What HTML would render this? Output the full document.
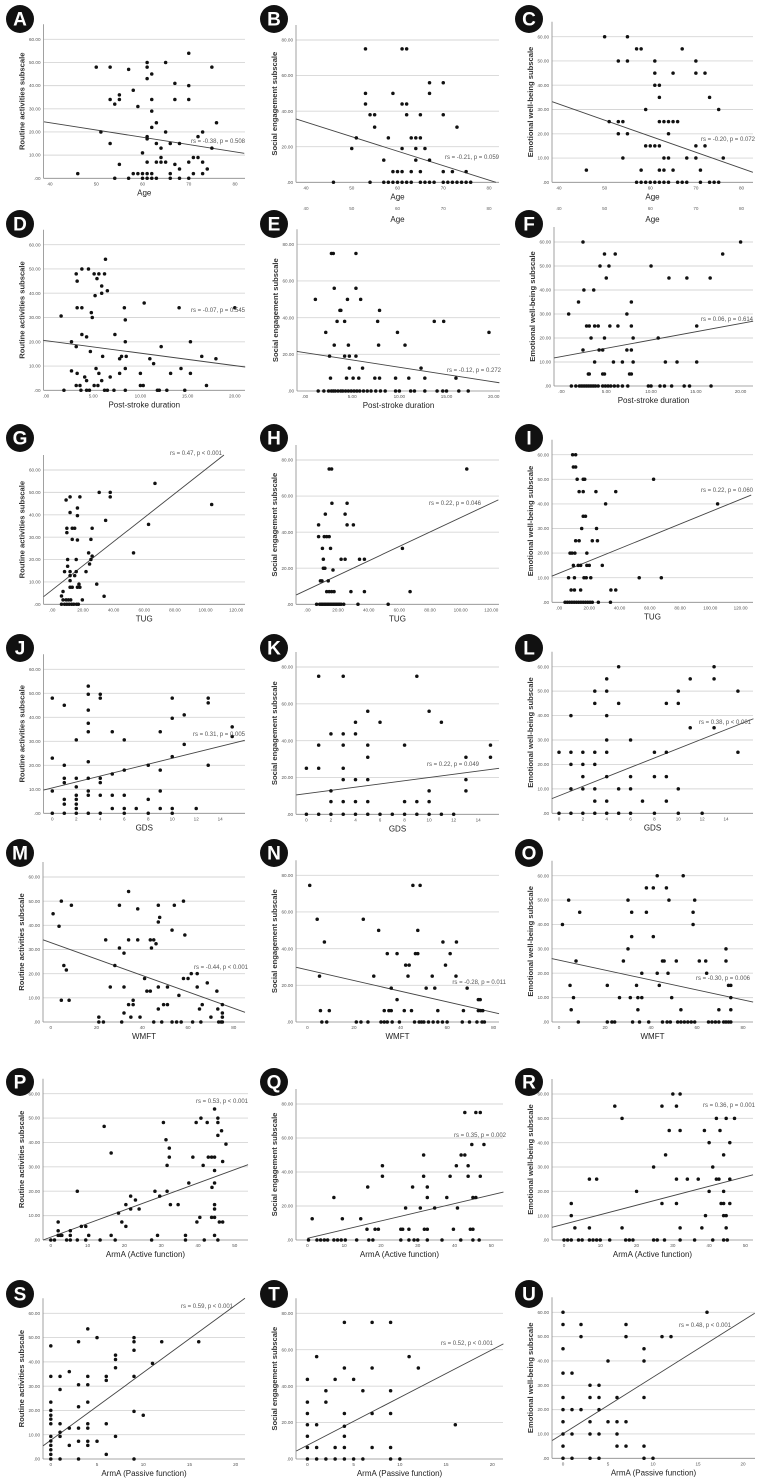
<!DOCTYPE html>
<html><head><meta charset="utf-8">
<style>
html,body{margin:0;padding:0;background:#fff;}
svg{display:block;font-family:"Liberation Sans",Arial,sans-serif;}
</style></head>
<body>
<svg id="fig" width="759" height="1482" viewBox="0 0 759 1482" xmlns="http://www.w3.org/2000/svg"></svg>
<script>
// ---------- tick values / labels ----------
const yTicksSixty = [0,10,20,30,40,50,60];
const yLabelsSixty = [".00","10.00","20.00","30.00","40.00","50.00","60.00"];
const yTicksEighty = [0,20,40,60,80];
const yLabelsEighty = [".00","20.00","40.00","60.00","80.00"];
const xTicksAge = [40,50,60,70,80];
const xLabelsAge = ["40","50","60","70","80"];
const xTicksDur = [0,5,10,15,20];
const xLabelsDur = [".00","5.00","10.00","15.00","20.00"];
const xTicksTug = [0,20,40,60,80,100,120];
const xLabelsTug = [".00","20.00","40.00","60.00","80.00","100.00","120.00"];
const xTicksGds = [0,2,4,6,8,10,12,14];
const xLabelsGds = ["0","2","4","6","8","10","12","14"];
const xTicksWmft = [0,20,40,60,80];
const xLabelsWmft = ["0","20","40","60","80"];
const xTicksActive = [0,10,20,30,40,50];
const xLabelsActive = ["0","10","20","30","40","50"];
const xTicksPassive = [0,5,10,15,20];
const xLabelsPassive = ["0","5","10","15","20"];

// ---------- series (x, y) ----------
const aPoints = [[46,2],[50,48],[53,48],[57,47],[53,34],[54,32],[55,36],[55,34],[58,38],[59,31],[51,20],[53,15],[55,6],[54,0],[57,0],[58,2],[59,2],[60,2],[60,0],[61,2],[61,0],[62,2],[62,0],[63,0],[60,11],[61,50],[61,48],[61,43],[62,45],[62,34],[62,29],[62,22],[63,24],[61,18],[61,17],[63,15],[61,7],[64,13],[64,9],[64,7],[63,7],[65,7],[66,15],[65,20],[65,50],[67,41],[67,34],[68,15],[67,6],[68,4],[66,2],[66,0],[68,0],[70,54],[70,40],[70,34],[70,7],[70,0],[71,9],[72,9],[71,2],[72,18],[73,20],[73,7],[73,2],[74,4],[75,48],[75,13],[76,24]];
const aLine = [38.7,24.4,82,10.8];
const bPoints = [[46,0],[50,19],[51,25],[53,75],[53,50],[53,44],[54,38],[55,38],[55,31],[54,0],[57,12.5],[58,25],[59,50],[57,0],[58,0],[59,0],[60,0],[61,0],[62,0],[63,0],[59,6],[60,6],[61,6],[61,75],[62,75],[61,44],[62,44],[62,38],[61,19],[63,25],[64,25],[65,25],[64,19],[64,12.5],[63,6],[65,6],[65,38],[66,19],[67,56],[67,50],[67,12.5],[65,0],[66,0],[67,0],[68,0],[70,56],[70,38],[70,6],[70,0],[71,0],[72,0],[73,0],[74,0],[75,0],[76,0],[72,6],[73,31],[75,6]];
const bLine = [37.8,35.6,81.5,0];
const cPoints = [[46,5],[50,60],[51,25],[53,50],[53,25],[54,25],[53,20],[54,10],[55,60],[55,50],[55,20],[57,55],[58,55],[58,5],[59,30],[59,15],[60,15],[61,15],[62,15],[57,0],[58,0],[59,0],[60,0],[61,0],[62,0],[63,0],[64,0],[66,0],[67,0],[68,0],[61,50],[61,45],[61,40],[62,40],[62,35],[62,25],[63,25],[64,25],[65,25],[66,25],[64,20],[63,10],[64,10],[62,5],[63,5],[65,5],[65,45],[67,55],[68,10],[70,50],[70,45],[72,45],[70,15],[72,15],[70,10],[71,5],[71,0],[73,35],[75,30],[76,10],[73,0],[74,0],[75,0]];
const cLine = [38.5,33.2,82.5,4.1];
const dPoints = [[1.6,30.6],[1.9,0],[2.7,8],[2.7,20],[3.2,48],[3.8,50],[3.3,45],[3.3,34],[3.8,34],[3.8,23],[4.3,22],[3.2,18],[3.3,7],[3.2,2],[3.6,2],[4.1,5.5],[4.3,4],[3.7,0],[4.3,0],[4.6,0],[4.5,50],[4.8,32],[4.9,30],[5.1,48],[5.4,46],[5.2,39],[4.7,16],[5.1,2],[5.5,2],[5.3,9],[5.6,7],[5.6,48],[5.9,43],[5.9,40],[5.9,4],[6,14],[6.2,48],[6.3,54],[6.5,41],[6.8,5.5],[6.2,0],[6.5,0],[7.2,0],[7.3,23],[7.8,13],[7.8,7],[8,14],[8.5,14],[8.3,34],[8.4,29],[8.4,20],[8.4,9],[8.4,0],[10.4,36],[10,7],[10,2],[10.3,2],[11,13],[11.4,11],[11.8,0],[12,0],[12.2,18],[12.8,0],[13.2,7],[14.1,34],[14.3,9],[14.7,0],[15.3,7],[15.3,20],[16.5,14],[17,2],[18,13],[20,34]];
const dLine = [-0.3,20.6,21.1,9.6];
const ePoints = [[1.1,50],[2.2,32],[2.6,19],[2.7,7],[2.8,75],[3,75],[3.1,56],[3.1,25],[3.4,38],[3.7,44],[3.8,44],[4.2,38],[4.2,19],[4.4,7],[4.5,50],[4.6,25],[4.7,19],[4.7,12.5],[5.1,7],[5.4,75],[5.4,56],[5.4,19],[5.7,7],[5.9,50],[6.1,12.5],[7.7,38],[7.8,25],[7.9,44],[7.4,7],[7.9,7],[9.8,32],[9.6,7],[10.6,25],[11,7],[12.3,12.5],[12.7,7],[13.7,38],[14.7,38],[16,7],[19.5,32],[1.4,0],[2,0],[2.5,0],[2.8,0],[3,0],[3.2,0],[3.5,0],[3.8,0],[4,0],[4.3,0],[4.6,0],[4.9,0],[5.2,0],[5.5,0],[5.8,0],[6.2,0],[6.6,0],[7,0],[7.5,0],[8,0],[8.5,0],[9.6,0],[10,0],[11.2,0],[11.6,0],[12.7,0],[14,0],[14.6,0],[15,0],[16.3,0],[17.3,0]];
const eLine = [-0.85,21.6,20.6,4.5];
const fPoints = [[0.8,30],[1.9,35],[2.4,60],[2.5,40],[2.4,15],[2.8,25],[3.1,25],[3,5],[3.1,5],[3.3,20],[3.7,25],[3.6,40],[3.7,10],[4.1,25],[4.2,15],[4.3,50],[4.6,15],[4.6,5],[4.8,5],[4.8,20],[4.8,55],[5,45],[5.3,50],[5.4,25],[6,55],[5.8,10],[6.3,25],[6.8,10],[7.3,30],[7.3,15],[7.6,5],[7.8,5],[7.8,15],[7.8,35],[7.8,25],[8,20],[8,10],[10,50],[10.8,20],[11.6,10],[12,45],[12.9,10],[14,45],[15.1,10],[15.1,25],[16.6,45],[18,55],[20,60],[1.1,0],[1.6,0],[2,0],[2.2,0],[2.4,0],[2.6,0],[2.8,0],[3,0],[3.2,0],[3.4,0],[3.6,0],[3.8,0],[4.1,0],[4.6,0],[4.9,0],[5.2,0],[5.5,0],[5.9,0],[6.3,0],[6.8,0],[7.4,0],[9.7,0],[10,0],[11,0],[11.5,0],[12.3,0],[13.7,0],[14.3,0],[16.7,0]];
const fLine = [-0.84,11.7,21.4,27];
const gPoints = [[6,3.7],[6,0],[8,0],[9.5,0],[11,0],[12.6,0],[14,0],[15.8,0],[17,0],[7,5.7],[7,2],[9,2],[10.5,2],[12,2],[8,14.6],[9,46.6],[9.5,34],[9.5,32],[10,20],[10,17],[11.6,48],[11.6,41],[11.6,12.8],[11.6,14.6],[11.6,10.6],[11.6,7.6],[13,34],[14.6,34],[13,29],[13,7.6],[14.6,12.8],[15.6,14.6],[15.6,20],[16.4,43],[16.4,39.6],[16.4,28.7],[16.4,7.6],[18,7.6],[17.4,9],[18,48],[19.6,2],[22,14.6],[23.7,23],[24.3,18],[25.2,20],[26,34],[25.2,29],[26,21.5],[29,9],[30.6,50],[33.8,3.6],[34.8,37.5],[37.8,50],[37.8,48],[53,23],[62.8,35.7],[67,54],[104,44.6]];
const gLine = [-5.7,3.4,112,66.7];
const hPoints = [[6,0],[8,0],[9,0],[10,0],[11,0],[12,0],[13,0],[14,0],[15,0],[16,0],[17,0],[18,0],[19,0],[20,0],[21,0],[22,0],[23.7,0],[33,0],[52.7,0],[7.3,37.5],[7.3,44],[8.5,13],[9.5,13],[9.8,31],[10.4,20],[11.4,20],[10.4,25],[11,37.5],[12.6,37.5],[14.2,37.5],[11.7,50],[13.6,13],[12.6,7],[14.2,7],[15.8,7],[17.4,7],[14.2,75],[15.8,75],[15.1,31],[16,56],[16.7,19],[22,25],[24.6,25],[24.6,50],[25.9,44],[25.9,56],[30,44],[28.4,7],[34,25],[37.2,25],[37.2,7],[62,31],[67,7],[104,75]];
const hLine = [-7.3,5.2,124.6,57.9];
const iPoints = [[4,0],[5.5,0],[7,0],[8.5,0],[10,0],[11.5,0],[13,0],[14.5,0],[16,0],[17.5,0],[19,0],[20.5,0],[22,0],[26,0],[34,0],[9,60],[11,60],[9.5,55],[11,55],[12,50],[13.3,45],[16,45],[16,50],[17,50],[16,35],[17.5,35],[15,30],[11,25],[13.3,25],[7.3,20],[8.6,20],[10.5,20],[9.5,15],[12.7,15],[14.3,15],[18.4,20],[18.4,15],[20,15],[6.3,10],[10.2,10],[16.5,10],[18,10],[21,10],[8,5],[10.2,5],[14.3,5],[24.4,45],[22,25],[25.4,25],[24.8,30],[28.6,15],[30.8,40],[37.5,45],[34.3,5],[37.5,5],[53,10],[62.5,50],[67.6,10],[104.8,40]];
const iLine = [-4.8,10.6,127,43.6];
const jPoints = [[0,48],[0,23],[0,9.3],[0,0],[1,45],[1,20],[1,14.6],[1,12.8],[1,5.8],[1,3.8],[1,0],[2,30.6],[2,14.6],[2,11],[2,7.5],[2,5.8],[2,3.8],[2,2],[2,0],[3,53],[3,49.6],[3,43],[3,37.5],[3,34],[3,21.5],[3,14.6],[3,9.3],[3,7.5],[3,0],[4,49.6],[4,48],[4,14.6],[4,12.8],[4,7.5],[4,0],[5,34],[5,16.4],[5,7.5],[5,2],[6,30.6],[6,18],[6,7.5],[6,2],[6,0],[7,2],[8,20],[8,5.8],[8,0],[9,34],[9,18],[9,9.3],[9,2],[10,48],[10,39.6],[10,23.6],[10,2],[10,0],[11,41],[11,28.7],[12,2],[13,48],[13,46],[13,20],[15,36],[15,32]];
const jLine = [-0.73,9.7,16.05,30.4];
const kPoints = [[0,25],[0,0],[1,75],[1,37.6],[1,25],[1,0],[2,43.7],[2,12.7],[2,6.9],[2,0],[3,75],[3,43.7],[3,37.6],[3,25],[3,18.8],[3,6.9],[3,0],[4,50],[4,43.7],[4,18.8],[4,6.9],[4,0],[5,56],[5,37.6],[5,31],[5,18.8],[5,6.9],[5,0],[6,50],[6,0],[7,0],[8,37.6],[8,6.9],[8,0],[9,75],[9,6.9],[9,0],[10,56],[10,12.7],[10,6.9],[10,0],[11,50],[11,0],[12,0],[13,31],[13,18.8],[13,12.7],[15,37.6],[15,31]];
const kLine = [-0.83,10.5,15.7,25];
const lPoints = [[0,25],[0,0],[1,40],[1,25],[1,20],[1,10],[1,0],[2,25],[2,20],[2,15],[2,10],[2,0],[3,50],[3,45],[3,25],[3,20],[3,10],[3,5],[3,0],[4,55],[4,50],[4,40],[4,30],[4,25],[4,15],[4,5],[4,0],[5,60],[5,45],[5,10],[5,0],[6,30],[6,15],[6,10],[6,0],[7,5],[8,25],[8,15],[8,0],[9,45],[9,25],[9,15],[9,5],[10,50],[10,45],[10,10],[10,0],[11,55],[11,35],[12,0],[13,60],[13,55],[13,35],[15,50],[15,25]];
const lLine = [-0.6,6,16.3,38.7];
const mPoints = [[1,44.8],[3.6,39.6],[4.6,50],[4.6,9],[5.7,23.4],[6.8,21.5],[8,9],[9,48.3],[21,2],[21,0],[23,0],[24,34],[26,14.5],[28,23.4],[30,48.3],[30,30.6],[31,0],[32,28.5],[32,14.5],[32,3.7],[34,54],[34,34],[34,7.2],[35,2],[36,9],[36,7.2],[38,46.8],[38,34],[39,2],[41,18],[42,12.8],[43.5,12.8],[43.5,34],[45,34],[44,30.6],[46,32.4],[45,0],[47,41.4],[47.6,43.3],[47,48.3],[47,14.5],[47,5.4],[48.5,0],[49.3,7.2],[51,7.2],[51,14.5],[53,0],[55,0],[57,0],[53,38],[54,48.3],[56,11],[58,50],[58.6,36],[58,18],[60,18],[61.4,20],[62,0],[64,20],[64,14.5],[65,5.4],[66.2,7.2],[65.6,0],[68.4,16.2],[70,2],[72.6,12.8],[73,5.4],[73.4,0],[74.5,0],[75,0],[75,7.2],[75,3.7],[75,2]];
const mLine = [-3.4,34,84.9,4];
const nPoints = [[1,74.5],[4.2,56],[5.2,25],[5.6,6.2],[6.2,0],[8.3,0],[7.3,43.6],[9.4,6.2],[21,0],[23,0],[26,0],[24,56],[28.5,25],[30.6,50],[31.6,0],[33,0],[33,6.2],[35,6.2],[36,6.2],[34.3,37.3],[36,18.5],[34.3,0],[36.4,0],[38.5,37.3],[38.5,12.2],[39.5,0],[41.6,6.2],[42.2,31],[43.7,31],[43.2,25],[44.7,6.2],[45.3,74.5],[46.4,37.3],[47.4,37.3],[47.4,50],[48.4,74.5],[46,0],[48,0],[49,0],[50,0],[52,0],[54,0],[56,0],[51,18.5],[53.6,25],[54.7,18.5],[56,6.2],[58.2,43.6],[59.3,31],[61.3,37.3],[63.8,25],[64,43.6],[58,0],[60,0],[66.5,0],[69.6,0],[67,6.2],[68.6,18.5],[73.4,12.2],[74.2,12.2],[73.4,6.2],[74.4,6.2],[75.3,6.2],[72.8,0],[75,0],[76,0]];
const nLine = [-4.8,29.8,82.3,4.5];
const oPoints = [[1.5,40],[4.2,50],[4.8,15],[5.3,5],[6.3,10],[7.4,25],[8.4,0],[9,45],[21,15],[21,0],[23,0],[24.2,0],[26.3,10],[28,25],[30,50],[30,30],[31,10],[31.6,45],[31.6,35],[32,0],[33.7,15],[34.3,10],[34.3,5],[35,0],[36,20],[36,10],[38,55],[41,55],[38,45],[39,0],[41,35],[42.7,20],[42.7,60],[43.6,15],[45,25],[45.7,25],[45,0],[46.7,55],[47.4,20],[47.8,50],[47,0],[48.4,0],[49,10],[51,25],[51.6,0],[53,5],[54,60],[53,0],[54.5,0],[56,0],[57.5,0],[59,0],[58.3,45],[58.3,40],[59,50],[61,25],[63.8,25],[64.2,20],[65,0],[66.5,0],[68,0],[69.5,0],[69.5,5],[72.6,30],[72.6,25],[73.7,15],[74.7,15],[74.7,10],[74.7,5],[71.6,0],[72.6,0],[73.7,0],[74.7,0]];
const oLine = [-3.2,26,84.4,8.2];
const pPoints = [[0,0],[1,0],[2,7.4],[2,3.8],[2.6,1.9],[2,1.9],[3,1.9],[4.3,0],[5.3,3.8],[5.3,1.9],[5.3,0],[7.2,0],[7.2,20],[8.3,5.6],[9.5,5.6],[9.5,0],[10.3,1.9],[13.4,0],[14.5,46.6],[16.4,35.7],[16.4,1.9],[17.5,0],[18.4,11],[19.3,7.4],[20.4,5.6],[20.4,14.5],[21.7,18],[21.7,12.7],[23,16.4],[24,12.7],[27.4,0],[28.3,20],[29,1.9],[29.6,18],[30.6,48.2],[31.3,41.1],[31.6,30.6],[31.6,20],[32.2,37.7],[32.2,34],[32.5,14.5],[34.6,14.5],[36.6,1.9],[36.6,0],[37.5,23.4],[38.6,34],[39.5,48.2],[40.8,50],[39.7,7.4],[40.5,9.3],[41.4,30.6],[41.7,0],[42.5,48.2],[42.8,34],[43.7,34],[44.5,34],[43.8,21.6],[44.5,53.7],[44.5,28.5],[44.5,23.4],[44.5,14.5],[44.5,12.7],[43.7,9.3],[44.5,9.3],[44.5,1.9],[45.4,0],[45.4,50],[45.4,48.2],[45.4,42.9],[45.8,7.4],[46.7,7.4],[46.4,44.8],[46.7,32.2],[47.6,39.3]];
const pLine = [-2.1,0,53.6,30.9];
const qPoints = [[0.3,0],[1.3,12.5],[2.6,0],[3.6,0],[4.6,0],[5.5,0],[7.2,25],[7.2,0],[8.2,0],[9.2,0],[10.3,0],[9.5,12.5],[13.4,0],[14.5,12.5],[16.2,6.3],[16.4,31.2],[16.7,0],[17.8,0],[18.4,6.3],[19.3,6.3],[20.4,43.7],[20.4,37.5],[25.4,6.3],[25.9,6.3],[25.4,0],[27.6,0],[29,0],[30,0],[26.7,18.8],[27.6,6.3],[28.6,31.2],[30.7,18.8],[31.6,50],[31.6,37.5],[31.8,6.3],[32.6,6.3],[32.6,31.2],[32.6,25],[32.6,0],[34.6,18.8],[36.6,0],[37.9,25],[38.8,37.5],[39.7,6.3],[40.5,43.7],[40.8,18.8],[41.7,0],[41.8,50],[42.8,50],[42.8,75],[43.7,37.5],[43.7,43.7],[44.3,6.3],[45,6.3],[44.7,56.2],[45,25],[45.8,25],[45.8,75],[47,75],[45,0],[46.7,0],[47,37.5],[48,56.2]];
const qLine = [0,1,53.3,28.2];
const rPoints = [[0,0],[1,0],[2,0],[4,0],[5,0],[7,0],[8,0],[9,0],[10,0],[12.6,0],[17,0],[18,0],[19,0],[24.7,0],[25.7,0],[27.7,0],[32,0],[36,0],[41,0],[44,0],[45,0],[2,15],[2,10],[3,5],[7,25],[9,25],[7,5],[14,55],[16,50],[16,5],[20,20],[24.7,30],[27,55],[27,15],[28,35],[29,45],[30,60],[31,55],[31,25],[31,15],[32,60],[32,45],[32,5],[34,25],[37,25],[38,5],[38.7,45],[39,10],[40,40],[40,20],[41,30],[42,50],[42,25],[42.7,25],[43,45],[43.3,15],[44,35],[44,20],[44,15],[44,10],[44.7,10],[44.7,50],[44.7,5],[45.7,40],[45.7,25],[45.7,15],[47,50]];
const rLine = [-3.3,5.2,52.1,26.8];
const sPoints = [[0,46.6],[0,34],[0,23.4],[0,20],[0,18],[0,16.4],[0,14.5],[0,9.3],[0,7.4],[0,5.6],[0,3.8],[0,1.9],[0,0],[1,34],[1,28.6],[1,14.5],[1,11],[1,9.3],[1,0],[2,36],[2,12.7],[2,5.6],[3,48.3],[3,30.6],[3,21.5],[3,12.7],[3,7.3],[3,0],[4,53.6],[4,34],[4,30.6],[4,23.4],[4,14.5],[4,12.7],[4,7.3],[4,5.6],[5,50],[5,7.3],[6,34],[6,32.4],[6,14.5],[6,1.9],[7,42.8],[7,41],[7,37.6],[7,9.3],[9,50],[9,48.3],[9,44.8],[9,34],[9,19.6],[9,0],[10,18],[11,39.4],[12,48.3],[16,48.3]];
const sLine = [-0.84,5.4,21,66.2];
const tPoints = [[0,43.7],[0,31.2],[0,25],[0,18.8],[0,12.5],[0,6.3],[0,0],[1,56.2],[1,18.8],[1,6.3],[1,0],[2,37.5],[2,31.2],[2,0],[3,43.7],[3,6.3],[3,0],[4,75],[4,50],[4,25],[4,18],[4,12.5],[4,6.3],[4,0],[5,43.7],[5,0],[6,37.5],[6,0],[7,75],[7,50],[7,25],[7,6.3],[9,75],[9,37.5],[9,25],[9,6.3],[9,0],[10,0],[11,56.2],[12,50],[16,18.8]];
const tLine = [-1.2,4.4,21.2,63.2];
const uPoints = [[0,60],[0,55],[0,45],[0,35],[0,25],[0,20],[0,15],[0,10],[0,5],[0,0],[1,35],[1,20],[1,10],[1,0],[2,55],[2,50],[2,20],[3,30],[3,25],[3,15],[3,10],[3,0],[4,30],[4,25],[4,20],[4,10],[4,0],[5,40],[5,15],[6,25],[6,15],[6,10],[6,5],[7,55],[7,50],[7,15],[7,5],[9,45],[9,40],[9,25],[9,5],[9,0],[10,0],[11,50],[12,50],[16,60]];
const uLine = [-1.2,7.3,21.3,59.6];

const statLabels = ["rs = -0.38, p = 0.508","rs = -0.21, p = 0.059","rs = -0.20, p = 0.072","rs = -0.07, p = 0.545","rs = -0.12, p = 0.272","rs = 0.06, p = 0.614","rs = 0.47, p < 0.001","rs = 0.22, p = 0.046","rs = 0.22, p = 0.060","rs = 0.31, p = 0.005","rs = 0.22, p = 0.049","rs = 0.38, p < 0.001","rs = -0.44, p < 0.001","rs = -0.28, p = 0.011","rs = -0.30, p = 0.006","rs = 0.53, p < 0.001","rs = 0.35, p = 0.002","rs = 0.36, p = 0.001","rs = 0.59, p < 0.001","rs = 0.52, p < 0.001","rs = 0.48, p < 0.001"];

const yTitles = ["Routine activities subscale","Social engagement subscale","Emotional well-being subscale"];
const xTitles = ["Age","Post-stroke duration","TUG","GDS","WMFT","ArmA (Active function)","ArmA (Passive function)"];

// ---------- layout (pixel geometry only) ----------
const rowTicks = [[xTicksAge,xLabelsAge],[xTicksDur,xLabelsDur],[xTicksTug,xLabelsTug],[xTicksGds,xLabelsGds],[xTicksWmft,xLabelsWmft],[xTicksActive,xLabelsActive],[xTicksPassive,xLabelsPassive]];
const layout = [
 ['A',43.5,245,39.3,178.3,50,235,aPoints,aLine,245,141],
 ['B',296,499,40,182.3,306,489,bPoints,bLine,499,157],
 ['C',552,753,36.7,182.3,559,741.5,cPoints,cLine,755,139],
 ['D',43.5,245,244.7,390.3,46,234.8,dPoints,dLine,245,310],
 ['E',297,500,244.3,391,305,493.7,ePoints,eLine,501,370],
 ['F',554,753,242,386,561.5,740.6,fPoints,fLine,753,319],
 ['G',43.5,245,470,604.3,52.3,236.2,gPoints,gLine,222,453],
 ['H',296,499,460,604.3,307.4,491.3,hPoints,hLine,481,503],
 ['I',552,753,454.7,602.3,559,740.6,iPoints,iLine,753,490],
 ['J',43.5,245,669.3,813.3,52.3,220.2,jPoints,jLine,245,734],
 ['K',296,499,667,814.3,306.4,478.2,kPoints,kLine,479,764],
 ['L',552,753,666.7,813.3,559,726,lPoints,lLine,751,722],
 ['M',43,245,877,1022,50.8,233.8,mPoints,mLine,248,967],
 ['N',296,499,875.3,1022,307.4,493.7,nPoints,nLine,506,982],
 ['O',552,753,875.7,1022,559,743,oPoints,oLine,750,978],
 ['P',43,248,1093.7,1240,50.8,234.8,pPoints,pLine,248,1101],
 ['Q',296,503,1104,1240,307.4,491.3,qPoints,qLine,506,1135],
 ['R',552,753,1094,1240,564,745.4,rPoints,rLine,755,1105],
 ['S',43,245,1313.3,1459,50.8,235.7,sPoints,sLine,233,1306],
 ['T',296,503,1313.3,1459,307.4,492.3,tPoints,tLine,493,1343],
 ['U',552,755,1312.3,1458.3,563,743,uPoints,uLine,731,1325]
];
const badgeRowY = [19,224,438,648,853,1082,1294];
const badgeColX = [20,274,529];

const NS = "http://www.w3.org/2000/svg";
const svg = document.getElementById('fig');
function mk(tag, attrs, parent){
  const e = document.createElementNS(NS, tag);
  for (const k in attrs) e.setAttribute(k, attrs[k]);
  (parent||svg).appendChild(e);
  return e;
}

layout.forEach((L, idx) => {
  const [id,left,right,yT,y0,xp0,xp1,pts,line,annX,annY] = L;
  const row = Math.floor(idx/3), col = idx%3;
  const social = col === 1;
  const yTicks = social ? yTicksEighty : yTicksSixty;
  const yLabels = social ? yLabelsEighty : yLabelsSixty;
  const yMax = yTicks[yTicks.length-1];
  const [xTicks, xLabels] = rowTicks[row];
  const xv0 = xTicks[0], xv1 = xTicks[xTicks.length-1];
  const sx = v => xp0 + (v - xv0) * (xp1 - xp0) / (xv1 - xv0);
  const sy = v => y0 - v * (y0 - yT) / yMax;

  const g = mk('g', {});
  
  

  // gridlines
  yTicks.forEach((t, i) => {
    if (t > 0) {
      const gl = mk('line', {x1:left, x2:right, y1:sy(t), y2:sy(t), stroke:'#d6d6d6', 'stroke-width':0.9}, g);
      
      
    }
    const tl = mk('text', {x:left-3, y:sy(t)+1.6, 'font-size':4.6, fill:'#555', 'text-anchor':'end'}, g);
    tl.textContent = yLabels[i];
    
    
  });
  // axes
  const ya = mk('line', {x1:left, x2:left, y1:yT-15, y2:y0, stroke:'#8a8a8a', 'stroke-width':0.8}, g);
  
  
  const xa = mk('line', {x1:left, x2:right, y1:y0, y2:y0, stroke:'#8a8a8a', 'stroke-width':0.8}, g);
  
  
  xTicks.forEach((t, i) => {
    const tl = mk('text', {x:sx(t), y:y0+7, 'font-size':4.6, fill:'#555', 'text-anchor':'middle'}, g);
    tl.textContent = xLabels[i];
    
    
  });
  // titles
  const xt = mk('text', {x:(left+right)/2, y:y0+17, 'font-size':8, fill:'#222', 'text-anchor':'middle'}, g);
  xt.textContent = xTitles[row];
  
  
  const cy = (yT - 15 + y0) / 2;
  const yt = mk('text', {x:left-19, y:cy, 'font-size':7.6, 'font-weight':'bold', fill:'#333', 'text-anchor':'middle', transform:`rotate(-90 ${left-19} ${cy})`}, g);
  yt.textContent = yTitles[col];
  
  

  // regression line
  const rl = mk('line', {x1:sx(line[0]), y1:sy(line[1]), x2:sx(line[2]), y2:sy(line[3]), stroke:'#444', 'stroke-width':0.9}, g);
  
  

  // points
  pts.forEach(p => {
    const c = mk('circle', {cx:sx(p[0]), cy:sy(p[1]), r:1.75, fill:'#111'}, g);
    
    
  });

  // stat annotation
  const an = mk('text', {x:annX, y:annY+2, 'font-size':6, fill:'#555', 'text-anchor':'end'}, g);
  an.textContent = statLabels[idx];
  
  

  // badge
  const bx = badgeColX[col], by = badgeRowY[row];
  const bc = mk('circle', {cx:bx, cy:by, r:14, fill:'#111'}, g);
  
  
  const bt = mk('text', {x:bx, y:by+6.5, 'font-size':19, 'font-weight':'bold', fill:'#fff', 'text-anchor':'middle'}, g);
  bt.textContent = id;
  
  

  // stray duplicated age axis under B and C
  if (row === 0 && col > 0) {
    xTicks.forEach((t, i) => {
      const tl = mk('text', {x:sx(t), y:210, 'font-size':4.6, fill:'#666', 'text-anchor':'middle'}, g);
      tl.textContent = xLabels[i];
      
      
    });
    const dt = mk('text', {x:(left+right)/2, y:222, 'font-size':8, fill:'#222', 'text-anchor':'middle'}, g);
    dt.textContent = 'Age';
    
    
  }
});
</script>
</body></html>
